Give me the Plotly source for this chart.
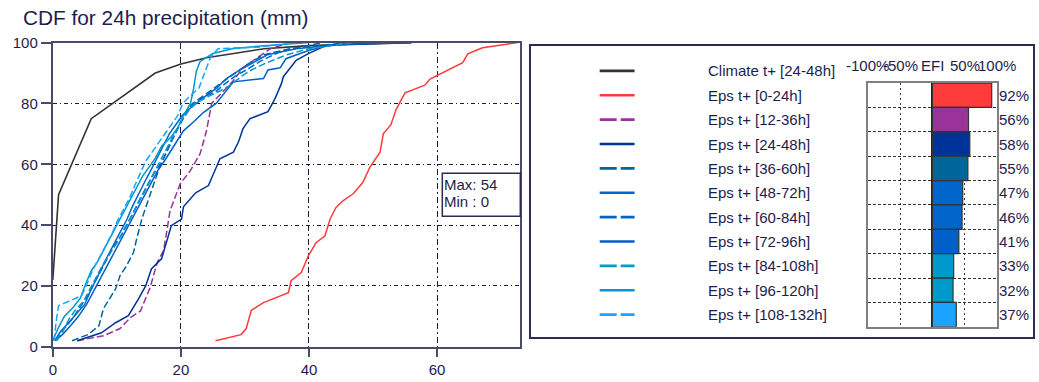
import plotly.graph_objects as go

W, H = 1039, 382

# ---------------- data ----------------
x_ticks = [0, 20, 40, 60]
y_ticks = [0, 20, 40, 60, 80, 100]

climate_label = "Climate t+ [24-48h]"
climate_x = [0, 0.9, 6, 16, 20, 24, 33, 40, 56]
climate_y = [22, 50, 75, 90, 93, 95, 98, 99, 100]

eps_0_24_x = [25.4, 29.4, 30.2, 31.0, 32.9, 36.8, 37.2, 38.8, 39.9, 41.1, 42.5, 43.3, 44.2, 45.3,
              46.9, 48.4, 49.5, 51.1, 51.6, 52.8, 53.6, 55.0, 58.1, 58.9, 64.0, 64.8, 67.1, 72.6]
eps_0_24_y = [2, 4, 6, 12, 14.5, 17.8, 21.7, 24.4, 29.9, 34.2, 36.5, 42, 45.7, 48,
              50.3, 54, 59, 64, 70, 73, 78, 83.5, 86, 88, 93.4, 96.3, 98.3, 100]

eps_12_36_x = [3.8, 7.9, 10.5, 12.1, 13.7, 15.2, 16.3, 17.3, 17.8, 18.3, 19.9, 21.5, 23.0, 24.0,
               24.8, 26.1, 28.2, 29.7, 31.8, 34.0, 37.0]
eps_12_36_y = [2, 3.6, 6, 9.6, 11.8, 19.5, 27.7, 31.6, 38, 44.7, 53.6, 58, 63.5, 71,
               80, 83, 87.5, 91.8, 94.7, 98, 100]

eps_24_48_x = [3.8, 7.6, 9.8, 11.8, 13.4, 14.5, 15.4, 17.0, 18.5, 20.1, 20.4, 22.3, 24.3, 26.1,
               28.2, 29.0, 29.7, 30.8, 33.6, 34.7, 35.7, 36.0, 38.0, 39.9, 42.2, 43.8, 56.0]
eps_24_48_y = [2, 4.6, 7.9, 10.2, 15.8, 20, 25.6, 29, 39.8, 42, 46, 50.6, 53, 61.8,
               64, 67.4, 71.7, 75, 77.3, 81.6, 86.5, 88.8, 94.2, 96.4, 98.6, 99.3, 100]

eps_36_60_x = [3.0, 5.5, 7.2, 7.9, 9.8, 10.5, 11.5, 12.6, 13.1, 13.9, 14.6, 15.7, 16.5, 17.3,
               18.2, 19.0, 20.0, 21.2, 22.5, 24.5, 26.5, 28.5, 30.5, 33.0, 37.0, 46.0]
eps_36_60_y = [2, 4, 6.9, 12.5, 19, 23.4, 26.6, 31, 35.5, 42, 46.4, 53, 58, 62,
               66, 70, 74, 78, 81, 84, 87, 90, 93, 96, 98, 100]

eps_48_72_x = [0.3, 1.2, 2.5, 3.8, 5.0, 5.8, 6.7, 7.6, 8.6, 9.6, 10.6, 11.6, 12.4, 13.3, 14.3,
               15.3, 16.3, 17.3, 18.2, 19.2, 20.2, 21.2, 22.4, 24.2, 25.6, 27.0, 29.2, 31.0,
               33.5, 38.0, 48.0]
eps_48_72_y = [2, 5, 8, 11, 14, 18, 22, 26, 30, 34, 38, 42, 46, 50, 54,
               58, 62, 66, 70, 73, 76, 78, 80, 83, 85, 88, 91, 93,
               96, 98, 100]

eps_60_84_x = [0.6, 1.8, 3.0, 4.2, 5.5, 6.5, 7.5, 8.5, 9.5, 10.8, 11.8, 12.8, 13.8, 14.8, 15.8,
               16.8, 17.8, 18.6, 19.6, 20.6, 21.8, 23.5, 25.5, 26.6, 28.5, 30.2, 32.5, 35.5, 42.0]
eps_60_84_y = [2, 6, 9, 13, 17, 21, 25, 29, 33, 37, 41, 45, 49, 53, 57,
               60, 64, 68, 72, 76, 80, 82, 84, 86, 89, 91, 94, 97, 100]

eps_72_96_x = [0.4, 1.5, 2.8, 4.0, 5.3, 6.3, 7.3, 8.4, 9.4, 10.4, 11.4, 12.4, 13.4, 14.4, 15.4,
               16.4, 17.4, 18.3, 19.2, 20.4, 22.0, 23.5, 25.5, 27.0, 28.2, 32.9, 33.6, 35.5,
               36.4, 38.6, 40.1, 43.3, 56.0]
eps_72_96_y = [2, 4, 7, 10, 14, 18, 22, 26, 30, 34, 38, 42, 46, 50, 54,
               58, 61, 64, 67, 71, 74, 77, 80, 84, 87.1, 88.2, 91, 91.7,
               94.7, 96.4, 97.5, 99.3, 100]

eps_84_108_x = [0.5, 1.5, 2.5, 3.5, 4.8, 5.8, 6.8, 7.8, 9.0, 10.3, 11.2, 12.3, 13.2, 14.2, 15.3,
                16.2, 17.3, 18.2, 19.2, 20.0, 21.0, 22.2, 24.0, 26.0, 27.7, 29.5, 31.0, 33.0,
                36.5, 40.0, 47.0]
eps_84_108_y = [2, 5, 9, 12, 15, 19, 23, 27, 31, 35, 39, 43, 47, 51, 55,
                59, 63, 67, 71, 74, 77, 80, 82, 84, 86, 89, 91, 93,
                96, 98, 100]

eps_96_120_x = [0.0, 0.8, 1.8, 3.2, 4.3, 5.0, 6.0, 7.0, 8.0, 9.0, 10.0, 11.0, 12.0, 13.0, 14.0,
                15.0, 16.0, 17.0, 18.5, 19.5, 20.4, 21.5, 22.0, 22.4, 23.0, 25.0, 28.0, 33.0, 40.0]
eps_96_120_y = [2, 6, 10, 13, 16, 20, 25, 28, 32, 36, 40, 44, 48, 52, 56,
                59, 62, 66, 69, 72, 76, 80, 85, 90.5, 93.8, 96.4, 98, 99, 100]

eps_108_132_x = [0.2, 0.5, 0.9, 2.5, 4.5, 5.2, 6.2, 7.2, 8.2, 9.2, 10.0, 11.0, 12.0, 12.8, 13.6,
                 14.5, 15.5, 16.5, 17.5, 18.5, 19.5, 20.3, 21.2, 22.8, 24.6, 25.8, 32.0, 38.0]
eps_108_132_y = [2, 8, 13.5, 15, 16.8, 20, 25, 29, 33, 37, 41, 45, 49, 53, 57,
                 61, 64, 67, 70, 73, 76, 80, 82, 85, 95, 98, 98.5, 100]

eps_labels = ["Eps t+ [0-24h]", "Eps t+ [12-36h]", "Eps t+ [24-48h]", "Eps t+ [36-60h]",
              "Eps t+ [48-72h]", "Eps t+ [60-84h]", "Eps t+ [72-96h]", "Eps t+ [84-108h]",
              "Eps t+ [96-120h]", "Eps t+ [108-132h]"]
eps_curves = [(eps_0_24_x, eps_0_24_y), (eps_12_36_x, eps_12_36_y), (eps_24_48_x, eps_24_48_y),
              (eps_36_60_x, eps_36_60_y), (eps_48_72_x, eps_48_72_y), (eps_60_84_x, eps_60_84_y),
              (eps_72_96_x, eps_72_96_y), (eps_84_108_x, eps_84_108_y),
              (eps_96_120_x, eps_96_120_y), (eps_108_132_x, eps_108_132_y)]
efi_percent = [92, 56, 58, 55, 47, 46, 41, 33, 32, 37]
efi_header = ["-100%", "-50%", "EFI", "50%", "100%"]
efi_header_pos = [-100, -50, 0, 50, 100]
precip_max = 54
precip_min = 0

# ---------------- styles ----------------
climate_color = "#333333"
eps_colors = ["#ff3a3a", "#993399", "#003399", "#006699", "#0066cc",
              "#0066cc", "#0060c8", "#0099cc", "#0099cc", "#1aa3ff"]
eps_dashed = [False, True, False, True, False, True, False, True, False, True]

FONT = "Liberation Sans, Arial, sans-serif"
TXT = "#1d1d4d"
AXC = "#4a4a6a"
GRIDC = "#1a1a40"

# vertical pixel positions below are page positions; the drawing area starts
# 8px down the page and is 366px tall
PAGE_TOP, DRAW_H = 8.0, 366.0


def px_x(p):
    return p / W


def px_y(p):
    return 1 - (p - PAGE_TOP) / DRAW_H


# layout boxes (page pixels)
MAIN_L, MAIN_R, MAIN_T, MAIN_B = 49, 518.3, 41.7, 346.7
LEG_L, LEG_R, LEG_T, LEG_B = 529, 1033, 45, 337
EFI_L, EFI_R, EFI_T, EFI_B = 867.3, 996.7, 82.3, 326.7
ROW_H = (EFI_B - EFI_T) / len(efi_percent)
ROW0 = EFI_T + ROW_H / 2
SAMPLE_X0, SAMPLE_X1, LABEL_X = 598, 633, 705

fig = go.Figure()

# CDF curves
fig.add_trace(go.Scatter(x=climate_x, y=climate_y, mode="lines",
                         line=dict(color=climate_color, width=1.6),
                         xaxis="x", yaxis="y", showlegend=False))
for (cx, cy), col, dsh in zip(eps_curves, eps_colors, eps_dashed):
    fig.add_trace(go.Scatter(x=cx, y=cy, mode="lines",
                             line=dict(color=col, width=1.5, dash="7px,3px" if dsh else "solid"),
                             xaxis="x", yaxis="y", showlegend=False))

# legend line samples (row -1 = climate)
rows = list(range(len(efi_percent)))
leg_rows = [-1] + rows
leg_cols = [climate_color] + eps_colors
leg_dash = [False] + eps_dashed
leg_text = [climate_label] + eps_labels
for r, col, dsh in zip(leg_rows, leg_cols, leg_dash):
    fig.add_trace(go.Scatter(x=[SAMPLE_X0, SAMPLE_X1], y=[r, r], mode="lines",
                             line=dict(color=col, width=2.6, dash="17px,4px" if dsh else "solid"),
                             xaxis="x3", yaxis="y3", showlegend=False, hoverinfo="skip"))

# EFI bars
fig.add_trace(go.Bar(x=efi_percent, y=rows, orientation="h", width=1,
                     marker=dict(color=eps_colors, line=dict(color="#333333", width=1.2)),
                     xaxis="x2", yaxis="y2", showlegend=False))

annotations = []
for r, t in zip(leg_rows, leg_text):
    annotations.append(dict(x=LABEL_X, y=r, xref="x3", yref="y3", text=t, showarrow=False,
                            xanchor="left", yanchor="middle",
                            font=dict(family=FONT, size=15, color=TXT)))
for r, v in zip(rows, efi_percent):
    annotations.append(dict(x=100, y=r, xref="x2", yref="y2", text=f"{v}%", showarrow=False,
                            xanchor="left", yanchor="middle", xshift=0,
                            font=dict(family=FONT, size=15, color=TXT)))
for p, t in zip(efi_header_pos, efi_header):
    annotations.append(dict(x=px_x(EFI_L + (p + 100) / 200 * (EFI_R - EFI_L)), y=px_y(64.5),
                            xref="paper", yref="paper", text=t, showarrow=False,
                            xanchor="center", yanchor="middle",
                            font=dict(family=FONT, size=15, color=TXT)))
# title
annotations.append(dict(x=px_x(17), y=px_y(16.3), xref="paper", yref="paper",
                        text="CDF for 24h precipitation (mm)", showarrow=False,
                        xanchor="left", yanchor="middle",
                        font=dict(family=FONT, size=20.8, color=TXT)))
# max / min box text
annotations.append(dict(x=px_x(440), y=px_y(184), xref="paper", yref="paper",
                        text=f"Max: {precip_max}", showarrow=False, xanchor="left",
                        yanchor="middle", font=dict(family=FONT, size=15, color=TXT)))
annotations.append(dict(x=px_x(440), y=px_y(201), xref="paper", yref="paper",
                        text=f"Min : {precip_min}", showarrow=False, xanchor="left",
                        yanchor="middle", font=dict(family=FONT, size=15, color=TXT)))

shapes = [
    dict(type="rect", xref="paper", yref="paper",
         x0=px_x(440), x1=px_x(MAIN_R), y0=px_y(215.7), y1=px_y(172.7),
         line=dict(color="#2b2b55", width=1.5), fillcolor="white", layer="above"),
]

efi_rows = len(efi_percent)
y_leg_top = (LEG_T - ROW0) / ROW_H
y_leg_bot = (LEG_B - ROW0) / ROW_H

fig.update_layout(
    width=W, height=H, margin=dict(l=0, r=0, t=0, b=0),
    paper_bgcolor="white", plot_bgcolor="rgba(0,0,0,0)",
    font=dict(family=FONT, size=15, color=TXT),
    annotations=annotations, shapes=shapes,
    xaxis=dict(domain=[px_x(MAIN_L), px_x(MAIN_R)], range=[0, 73], tickvals=x_ticks,
               anchor="y",
               showgrid=True, gridcolor=GRIDC, gridwidth=1, griddash="6px,3px,2px,3px",
               showline=True, linecolor=AXC, linewidth=2, mirror=True,
               ticks="outside", ticklen=8, tickwidth=2, tickcolor=AXC,
               tickfont=dict(size=15, color=TXT), zeroline=False, fixedrange=True),
    yaxis=dict(domain=[px_y(MAIN_B), px_y(MAIN_T)], range=[0, 100], tickvals=y_ticks,
               anchor="x",
               showgrid=True, gridcolor=GRIDC, gridwidth=1, griddash="4px,3px,1px,3px",
               showline=True, linecolor=AXC, linewidth=2, mirror=True,
               ticks="outside", ticklen=10, tickwidth=2, tickcolor=AXC,
               tickfont=dict(size=15, color=TXT), zeroline=False, fixedrange=True),
    xaxis2=dict(domain=[px_x(EFI_L), px_x(EFI_R)], range=[-100, 100], tickvals=[-50, 50],
                anchor="y2",
                showticklabels=False, showgrid=True, gridcolor="#333333", gridwidth=1.2,
                griddash="2px,3px", showline=True, linecolor="#808080", linewidth=1.5,
                mirror=True, zeroline=True, zerolinecolor="#222222", zerolinewidth=2,
                fixedrange=True),
    yaxis2=dict(domain=[px_y(EFI_B), px_y(EFI_T)], range=[efi_rows - 0.5, -0.5],
                anchor="x2",
                tickvals=[i + 0.5 for i in range(efi_rows - 1)], showticklabels=False,
                showgrid=True, gridcolor="#333333", gridwidth=1.2, griddash="3px,2px",
                showline=True, linecolor="#808080", linewidth=1.5, mirror=True,
                zeroline=False, fixedrange=True),
    xaxis3=dict(domain=[px_x(LEG_L), px_x(LEG_R)], range=[LEG_L, LEG_R], showticklabels=False,
                anchor="y3",
                showgrid=False, zeroline=False, showline=True, linecolor="#2b2b55",
                linewidth=1.5, mirror=True, ticks="", fixedrange=True),
    yaxis3=dict(domain=[px_y(LEG_B), px_y(LEG_T)], range=[y_leg_bot, y_leg_top],
                anchor="x3",
                showticklabels=False, showgrid=False, zeroline=False, showline=True,
                linecolor="#2b2b55", linewidth=1.5, mirror=True, ticks="", fixedrange=True),
)

fig.write_html("out.html")
